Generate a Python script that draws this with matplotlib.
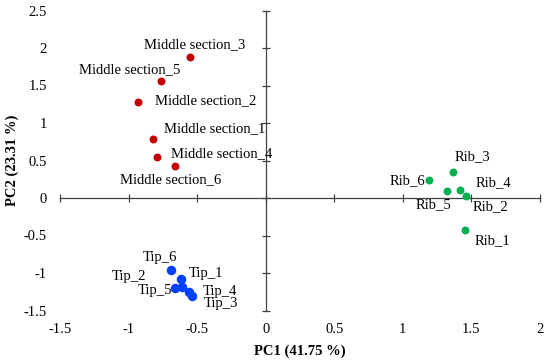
import numpy as np
import matplotlib.pyplot as plt

plt.rcParams['font.family'] = ['Liberation Serif', 'DejaVu Serif']

# PCA scores
mid_names = ['Middle section_1', 'Middle section_2', 'Middle section_3',
             'Middle section_4', 'Middle section_5', 'Middle section_6']
mid_x = [-0.82, -0.93, -0.555, -0.79, -0.76, -0.66]
mid_y = [0.79, 1.28, 1.88, 0.55, 1.56, 0.43]

rib_names = ['Rib_1', 'Rib_2', 'Rib_3', 'Rib_4', 'Rib_5', 'Rib_6']
rib_x = [1.45, 1.46, 1.365, 1.42, 1.32, 1.19]
rib_y = [-0.43, 0.03, 0.35, 0.11, 0.10, 0.24]

tip_names = ['Tip_1', 'Tip_2', 'Tip_3', 'Tip_4', 'Tip_5', 'Tip_6']
tip_x = [-0.62, -0.66, -0.54, -0.56, -0.61, -0.69]
tip_y = [-1.08, -1.20, -1.30, -1.25, -1.19, -0.96]

# label anchor points (left edge, vertical centre) in data units
mid_lx = [-0.74, -0.81, -0.89, -0.69, -1.36, -1.06]
mid_ly = [0.92, 1.30, 2.04, 0.59, 1.71, 0.24]
rib_lx = [1.52, 1.51, 1.38, 1.53, 1.09, 0.90]
rib_ly = [-0.57, -0.12, 0.55, 0.20, -0.09, 0.23]
tip_lx = [-0.56, -1.12, -0.45, -0.46, -0.93, -0.90]
tip_ly = [-1.00, -1.05, -1.40, -1.25, -1.23, -0.80]

fig = plt.figure(figsize=(5.5, 3.61), dpi=100)
pos = [60 / 550, 1 - 310.5 / 361, 480 / 550, 300 / 361]
ax = fig.add_axes(pos)
ax.set_xlim(-1.5, 2)
ax.set_ylim(-1.5, 2.5)

# axes through the origin
for s in ['top', 'right']:
    ax.spines[s].set_visible(False)
ax.spines['left'].set_position(('data', 0))
ax.spines['bottom'].set_position(('data', 0))
for s in ['left', 'bottom']:
    ax.spines[s].set_color('#404040')
    ax.spines[s].set_linewidth(0.9)
ticks_x = np.arange(-1.5, 2.01, 0.5)
ticks_y = np.arange(-1.5, 2.51, 0.5)
ax.set_xticks(ticks_x)
ax.set_yticks(ticks_y)
ax.tick_params(direction='inout', length=6, width=0.9, color='#404040',
               labelbottom=False, labelleft=False)

ax.scatter(mid_x, mid_y, s=22, color='#C00000', zorder=3)
ax.scatter(rib_x, rib_y, s=22, color='#00B050', zorder=3)
ax.scatter(tip_x, tip_y, s=34, color='#0040FF', zorder=3)

for names, lx, ly in [(mid_names, mid_lx, mid_ly), (rib_names, rib_lx, rib_ly),
                      (tip_names, tip_lx, tip_ly)]:
    for n, x, y in zip(names, lx, ly):
        ax.text(x, y, n, fontsize=10.5, ha='left', va='center')

# tick labels sit at the frame edges, not on the centred axes
lab = fig.add_axes(pos, frameon=False)
lab.set_xlim(-1.5, 2)
lab.set_ylim(-1.5, 2.5)
lab.set_xticks(ticks_x)
lab.set_yticks(ticks_y)
lab.set_xticklabels([f'{v:g}' for v in ticks_x])
lab.set_yticklabels([f'{v:g}' for v in ticks_y])
lab.tick_params(length=0, labelsize=10.5, pad=9)
lab.tick_params(axis='y', pad=9.5)
lab.patch.set_visible(False)
lab.set_xlabel('PC1 (41.75 %)', fontweight='bold', fontsize=10.5, labelpad=6)
lab.set_ylabel('PC2 (23.31 %)', fontweight='bold', fontsize=10.5, labelpad=3)

fig.savefig('out.png', dpi=100)
